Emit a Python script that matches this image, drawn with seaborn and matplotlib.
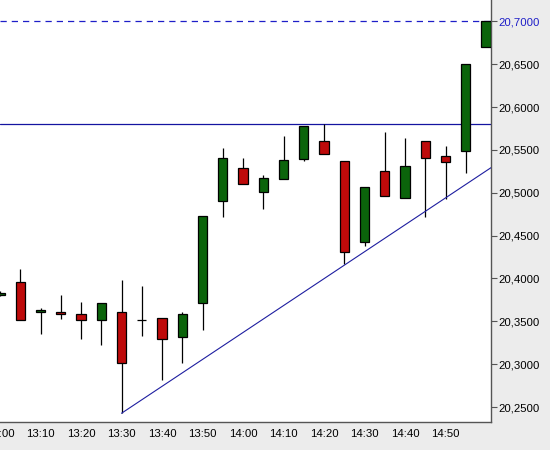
import matplotlib
matplotlib.use("Agg")
import matplotlib.pyplot as plt
import numpy as np
import seaborn as sns

# 5-minute candles, 13:00 .. 15:00
times = ["13:00", "13:05", "13:10", "13:15", "13:20", "13:25", "13:30", "13:35",
         "13:40", "13:45", "13:50", "13:55", "14:00", "14:05", "14:10", "14:15",
         "14:20", "14:25", "14:30", "14:35", "14:40", "14:45", "14:50", "14:55", "15:00"]
opens = [20.381, 20.396, 20.3606, 20.361, 20.3586, 20.351, 20.3606, 20.351,
         20.3536, 20.332, 20.371, 20.4901, 20.5286, 20.5006, 20.5165, 20.5399,
         20.5602, 20.5375, 20.4423, 20.5251, 20.4936, 20.5602, 20.5427, 20.5485, 20.670]
closes = [20.383, 20.351, 20.363, 20.358, 20.351, 20.371, 20.3017, 20.351,
          20.3297, 20.3586, 20.4726, 20.5403, 20.510, 20.517, 20.538, 20.578,
          20.545, 20.4306, 20.5072, 20.496, 20.531, 20.5403, 20.5356, 20.6504, 20.700]
highs = [20.385, 20.411, 20.3656, 20.381, 20.3726, 20.371, 20.398, 20.391,
         20.3536, 20.3612, 20.4726, 20.5527, 20.5407, 20.5208, 20.5663, 20.578,
         20.580, 20.5375, 20.5072, 20.571, 20.564, 20.5602, 20.5547, 20.6504, 20.700]
lows = [20.379, 20.351, 20.3356, 20.353, 20.329, 20.3227, 20.2427, 20.333,
        20.2819, 20.3017, 20.3399, 20.4721, 20.510, 20.4815, 20.5165, 20.5375,
        20.545, 20.4169, 20.438, 20.496, 20.4936, 20.4721, 20.4932, 20.5235, 20.670]

# reference lines
resistance = 20.58
target = 20.70
trend_start = ("13:30", 20.2427)
trend_end_price = 20.5293   # price of the trend line at the right edge

y_ticks = [20.25, 20.30, 20.35, 20.40, 20.45, 20.50, 20.55, 20.60, 20.65, 20.70]
x_tick_labels = times[0:23:2]

sns.set_theme(style="white")
plt.rcParams["font.family"] = ["Liberation Sans", "DejaVu Sans"]

fig = plt.figure(figsize=(5.5, 4.5), dpi=100, facecolor="#ECECEC")
ax = fig.add_axes([0, 0.0622, 0.8927, 0.9378])
ax.set_facecolor("white")

x = np.arange(len(times))
o = np.array(opens)
c = np.array(closes)
up = c >= o
colors = np.where(up, "#0B640B", "#BE0A0A")

# wicks
ax.vlines(x, lows, highs, color="black", linewidth=0.9, zorder=2)
# bodies
ax.bar(x, c - o, bottom=o, width=0.46, color=colors, edgecolor="black",
       linewidth=0.9, zorder=3)

x_left, x_right = 0.225, 24.245

# lines
ax.axhline(resistance, color="#1414A0", linewidth=0.9, zorder=1)
ax.axhline(target, color="#1E1EC8", linewidth=0.9, linestyle=(0, (5, 4)), zorder=1)
t0 = times.index(trend_start[0])
sns.lineplot(x=[t0, x_right], y=[trend_start[1], trend_end_price], ax=ax,
             color="#1E1EA0", linewidth=0.8, zorder=4)

ax.set_xlim(x_left, x_right)
ax.set_ylim(20.2325, 20.725)

ax.yaxis.tick_right()
ax.set_yticks(y_ticks)
ax.set_yticklabels([f"{v:.4f}".replace(".", ",") for v in y_ticks])
ax.set_xticks([times.index(t) for t in x_tick_labels])
ax.set_xticklabels(x_tick_labels)
ax.tick_params(axis="y", direction="out", length=4, width=0.8, pad=1,
               labelsize=8.2, colors="#555555", labelcolor="black")
ax.tick_params(axis="x", direction="out", length=3, width=0.8, pad=2,
               labelsize=8.2, colors="#555555", labelcolor="black")
ax.get_yticklabels()[-1].set_color("#1E1EC8")

for side in ["left", "top"]:
    ax.spines[side].set_visible(False)
for side in ["right", "bottom"]:
    ax.spines[side].set_color("#555555")
    ax.spines[side].set_linewidth(1.0)

fig.savefig("out.png", dpi=100, facecolor=fig.get_facecolor())
